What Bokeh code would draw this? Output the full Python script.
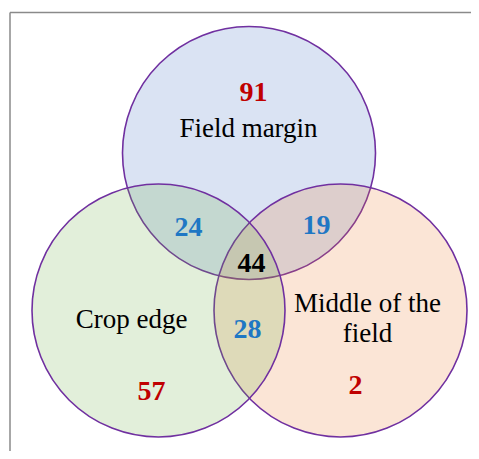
from bokeh.plotting import figure
from bokeh.models import Range1d
from bokeh.embed import file_html
from bokeh.resources import INLINE
from bokeh.core.properties import value

# ---- data ----
set_names = ["Field margin", "Crop edge", "Middle of the\nfield"]
only_counts = [91, 57, 2]              # unique to each set
pair_labels = ["Field margin & Crop edge", "Field margin & Middle", "Crop edge & Middle"]
pair_counts = [24, 19, 28]
all_count = [44]

# ---- layout (screen-pixel coordinates) ----
W, H = 471, 451
p = figure(width=W, height=H, output_backend="svg", toolbar_location=None,
           x_range=Range1d(0, W), y_range=Range1d(H, 0),
           min_border=0, outline_line_color=None)
p.axis.visible = False
p.grid.visible = False
p.background_fill_color = "white"

# frame
p.segment(x0=[9.5, 9.5], y0=[12, 12], x1=[W, 9.5], y1=[12, H],
          line_color="#8a8a8a", line_width=1.5)

# circles: drawn top, right, left
cx = {"top": 248.5, "left": 158, "right": 340}
cy = {"top": 152.5, "left": 310, "right": 310}
R = 126.5
fills = {"top": "#4472c4", "left": "#70ad47", "right": "#ed7d31"}
for k in ["top", "right", "left"]:
    p.circle(x=[cx[k]], y=[cy[k]], radius=R, fill_color=fills[k], fill_alpha=0.2,
             line_color="#7030a0", line_width=1.6)

serif = value("Liberation Serif")
red = "#c00000"
blue = "#1f77c4"

# set names
name_x = [248, 131, 367]
name_y = [127, 318, 317]
p.text(x=name_x, y=name_y, text=set_names, text_font=serif, text_font_size="27px",
       text_color="black", text_align="center", text_baseline="middle",
       text_line_height=1.0)

# unique counts
p.text(x=[253, 151, 355], y=[91, 390, 384], text=[str(v) for v in only_counts],
       text_font=serif, text_font_size="28px", text_font_style="bold",
       text_color=red, text_align="center", text_baseline="middle")

# pair counts
p.text(x=[188, 316, 247], y=[226, 224, 328], text=[str(v) for v in pair_counts],
       text_font=serif, text_font_size="28px", text_font_style="bold",
       text_color=blue, text_align="center", text_baseline="middle")

# all three
p.text(x=[251], y=[262], text=[str(v) for v in all_count],
       text_font=serif, text_font_size="28px", text_font_style="bold",
       text_color="black", text_align="center", text_baseline="middle")

open("out.html", "w").write(file_html(p, INLINE))
